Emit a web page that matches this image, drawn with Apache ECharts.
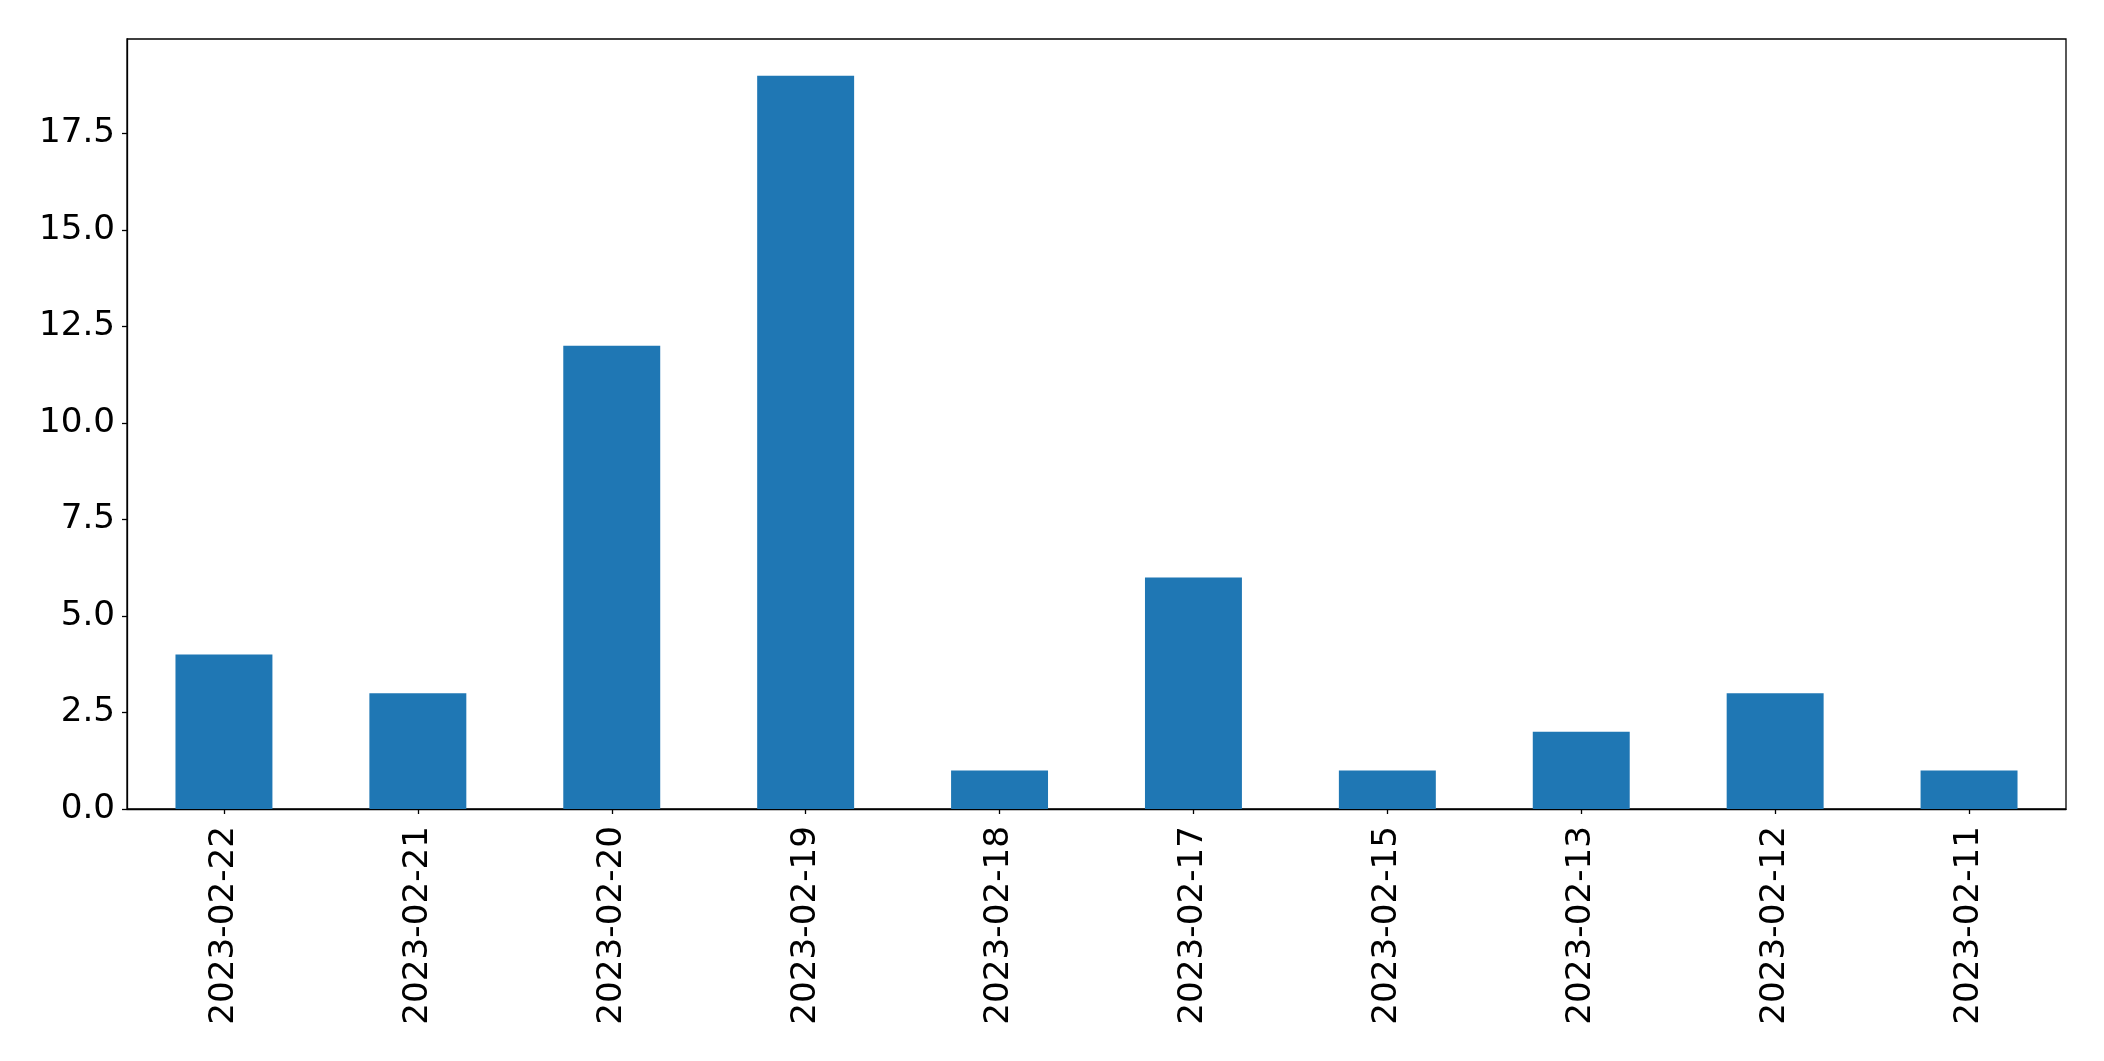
<!DOCTYPE html>
<html>
<head>
<meta charset="utf-8">
<script src="https://cdn.jsdelivr.net/npm/echarts@6/dist/echarts.min.js"></script>
<style>html,body{margin:0;padding:0;background:#fff}#c{width:2104px;height:1061px}</style>
</head>
<body>
<div id="c"></div>
<script>
var categories = ['2023-02-22','2023-02-21','2023-02-20','2023-02-19','2023-02-18','2023-02-17','2023-02-15','2023-02-13','2023-02-12','2023-02-11'];
var values = [4, 3, 12, 19, 1, 6, 1, 2, 3, 1];
var yTicks = [0, 2.5, 5, 7.5, 10, 12.5, 15, 17.5];

var chart = echarts.init(document.getElementById('c'), null, {renderer: 'canvas'});
var font = 'DejaVu Sans';
chart.setOption({
  animation: false,
  backgroundColor: '#fff',
  grid: {left: 127, top: 39, right: 38, bottom: 252, show: true, borderColor: '#000', borderWidth: 1.3, backgroundColor: 'transparent'},
  xAxis: {
    type: 'category',
    data: categories,
    axisLine: {show: true, lineStyle: {color: '#000', width: 1.3}},
    axisTick: {show: true, alignWithLabel: true, length: 5, lineStyle: {color: '#000', width: 1.3}},
    axisLabel: {rotate: 90, margin: 17, fontFamily: font, fontSize: 34.2, color: '#000', interval: 0},
    splitLine: {show: false}
  },
  yAxis: {
    type: 'value',
    min: 0,
    max: 19.95,
    interval: 2.5,
    axisLine: {show: true, lineStyle: {color: '#000', width: 1.3}},
    axisTick: {show: true, length: 5, lineStyle: {color: '#000', width: 1.3}},
    axisLabel: {
      margin: 12, fontFamily: font, fontSize: 34.2, color: '#000',
      formatter: function (v) { return yTicks.indexOf(v) >= 0 ? v.toFixed(1) : ''; },
      showMaxLabel: false
    },
    splitLine: {show: false}
  },
  series: [{
    type: 'bar',
    data: values,
    barWidth: '50%',
    itemStyle: {color: '#1f77b4'}
  }]
});
</script>
</body>
</html>
